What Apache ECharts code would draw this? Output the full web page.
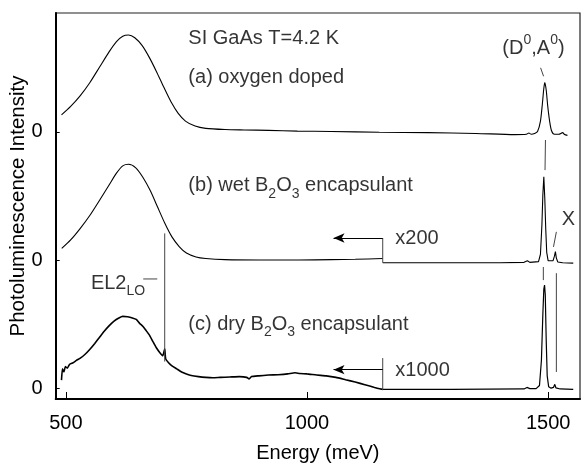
<!DOCTYPE html>
<html><head><meta charset="utf-8">
<script src="https://cdn.jsdelivr.net/npm/echarts@6/dist/echarts.min.js"></script>
<style>html,body{margin:0;padding:0;background:#fff}#c{width:583px;height:464px}</style>
</head><body><div id="c"></div>
<script>
// ---- data (energy meV, offset intensity a.u.) ----
const xTicks = [500, 1000, 1500];
const zeroLevels = [2.85, 36.0, 69.2];
const zeroLabel = '0';

const specA = [[491,73.6],[510,75.8],[530,78.6],[550,82.0],[570,86.0],[590,90.0],[605,92.6],[618,94.0],[630,94.3],[643,93.6],[658,91.6],[673,88.5],[688,84.8],[703,80.8],[718,77.0],[733,74.0],[748,72.0],[768,70.7],[790,70.1],[830,69.8],[870,69.7],[920,69.6],[980,69.4],[1050,69.3],[1150,69.1],[1250,69.0],[1350,68.8],[1430,68.5],[1455,68.6],[1460,68.9],[1465,68.6],[1472,68.8],[1478,69.3],[1484,72.0],[1488,76.5],[1491,80.5],[1493,82.0],[1496,80.0],[1499,76.0],[1503,72.0],[1507,69.5],[1513,68.6],[1522,68.6],[1530,69.0],[1534,68.5],[1540,68.3]];

const specBLeft = [[491.5,39.0],[510,41.2],[530,44.2],[550,47.6],[570,51.5],[590,55.5],[605,58.5],[618,60.4],[630,60.8],[645,59.9],[660,57.4],[675,54.0],[690,49.8],[705,45.6],[720,42.0],[735,39.5],[750,37.8],[770,36.8],[790,36.4],[830,36.1],[900,36.0],[983,36.0],[1050,36.1],[1100,36.2],[1157,36.4]];
const specBRight = [[1157,35.3],[1300,35.3],[1400,35.3],[1450,35.4],[1457,35.8],[1462,35.4],[1480,35.6],[1484,37.5],[1487,45],[1489,53],[1491,57.6],[1493,52],[1495,44],[1497,38],[1500,35.8],[1504,35.5],[1510,35.8],[1513,37],[1515,38.2],[1517,36.5],[1520,35.5],[1530,35.3],[1552,35.2]];

const specCLeft = [[491,4.9],[493,7.8],[496,7.0],[499,8.4],[503,8.0],[508,9.0],[515,9.4],[522,10.0],[530,10.6],[540,11.6],[550,12.9],[560,14.4],[570,16.0],[580,17.6],[590,19.0],[600,20.2],[610,21.0],[618,21.4],[628,21.3],[638,21.0],[646,20.6],[653,19.6],[660,18.8],[666,17.8],[673,16.6],[680,15.0],[688,13.2],[695,12.0],[701,11.2],[705,13.0],[707,10.4],[713,9.4],[720,8.6],[730,7.8],[740,7.0],[750,6.5],[760,6.1],[775,5.8],[790,5.6],[805,5.5],[820,5.6],[840,5.7],[860,5.8],[875,5.6],[880,5.2],[885,5.8],[900,6.0],[920,6.2],[940,6.3],[960,6.5],[975,6.8],[985,6.6],[1000,6.5],[1020,6.2],[1040,6.0],[1060,5.6],[1080,5.0],[1100,4.4],[1120,3.7],[1140,3.0],[1157,2.5]];
const specCRight = [[1157,2.5],[1300,2.5],[1450,2.6],[1456,3.0],[1462,2.7],[1475,2.7],[1482,3.5],[1486,10],[1489,22],[1491,28.5],[1492.5,29.5],[1494,27],[1496,15],[1498,6],[1501,3.2],[1506,2.8],[1511,3.0],[1513.7,3.8],[1516,2.9],[1525,2.6],[1552,2.5]];

// annotation segments (data coords)
const guideSegments = [
  [[1157,35.3],[1157,41.7]],
  [[1157,2.5],[1157,10.6]],
  [[705,42.9],[705,9.7]],
  [[660.5,31.1],[689.6,31.1]],
  [[1484.3,85.8],[1490.5,83.6]],
  [[1494.4,67.1],[1493.5,59.3]],
  [[1490,34.2],[1490,30.8]],
  [[1517,43.3],[1511,39.4]],
  [[1517,32.6],[1517,7.0]]
];
const arrows = [
  [[1157,41.7],[1055,41.7]],
  [[1157,7.6],[1055,7.6]]
];
const textNotes = [
  {t:'SI GaAs T=4.2 K', p:[754,93.5]},
  {t:'(a) oxygen doped', p:[754,83.2]},
  {t:'(b) wet B{sub|2}O{sub|3} encapsulant', p:[754,55.2]},
  {t:'(c) dry B{sub|2}O{sub|3} encapsulant', p:[754,19.4]},
  {t:'x200', p:[1183,41.7]},
  {t:'x1000', p:[1183,7.5]},
  {t:'(D{sup|0},A{sup|0})', p:[1405,90.9]},
  {t:'X', p:[1528,46.4]},
  {t:'EL2{sub|LO}', p:[552,30.0]}
];

const FONT = 'Liberation Sans';
const INK = '#000';
const richStyles = {
  m: {fontSize: 20, fontFamily: FONT, color: INK, lineHeight: 30, verticalAlign: 'middle'},
  sub: {fontSize: 14, fontFamily: FONT, color: INK, lineHeight: 14, verticalAlign: 'bottom'},
  sup: {fontSize: 14, fontFamily: FONT, color: INK, lineHeight: 14, verticalAlign: 'top'}
};
function toRich(s){
  return s.split(/(\{(?:sub|sup)\|[^}]*\})/).filter(x=>x.length).map(x=> x.startsWith('{') ? x : '{m|'+x+'}').join('');
}

const lineBase = {type:'line', showSymbol:false, symbol:'none', animation:false, silent:true, z:3};
const series = [
  Object.assign({}, lineBase, {data: specA, smooth: 0.25, lineStyle:{color:INK, width:1.1}}),
  Object.assign({}, lineBase, {data: specBLeft, smooth: 0.25, lineStyle:{color:INK, width:1.1}}),
  Object.assign({}, lineBase, {data: specBRight, lineStyle:{color:INK, width:1.1}}),
  Object.assign({}, lineBase, {data: specCLeft, smooth: 0.15, lineStyle:{color:INK, width:1.6}}),
  Object.assign({}, lineBase, {data: specCRight, lineStyle:{color:INK, width:1.2}})
];
guideSegments.forEach(seg => series.push(Object.assign({}, lineBase, {data: seg, lineStyle:{color:'#444', width:1}})));
series.push({
  type:'line', data:[], silent:true, animation:false,
  markLine:{silent:true, animation:false, symbol:['none','arrow'], symbolSize:[7,11],
    lineStyle:{color:INK, width:1, type:'solid'}, label:{show:false},
    data: arrows.map(a => [{coord:a[0]},{coord:a[1]}])}
});
series.push({
  type:'scatter', symbolSize:0, silent:true, animation:false, z:5,
  data: textNotes.map(n => ({value:n.p, label:{show:true, position:'right', distance:0,
    formatter: toRich(n.t), rich: richStyles}}))
});

const chart = echarts.init(document.getElementById('c'), null, {renderer:'canvas'});
chart.setOption({
  backgroundColor:'#fff',
  animation:false,
  grid:{left:55.7, right:3, top:13, bottom:65, containLabel:false, outerBoundsMode:'none',
    show:true, borderColor:'#222', borderWidth:1.2},
  xAxis:{type:'value', min:479, max:1566,
    name:'Energy (meV)', nameLocation:'middle', nameGap:44, nameMoveOverlap:false,
    nameTextStyle:{fontFamily:FONT, fontSize:20, color:INK},
    axisLine:{show:true, onZero:false, lineStyle:{color:INK, width:2}},
    axisTick:{show:true, inside:true, length:7, customValues:xTicks, lineStyle:{color:INK, width:1}},
    axisLabel:{customValues:xTicks, formatter:(v)=>String(v), fontFamily:FONT, fontSize:20, color:INK, margin:14},
    splitLine:{show:false}},
  yAxis:{type:'value', min:0, max:100,
    name:'Photoluminescence Intensity', nameLocation:'middle', nameGap:27, nameRotate:90, nameMoveOverlap:false,
    nameTextStyle:{fontFamily:FONT, fontSize:20.5, color:INK},
    axisLine:{show:true, lineStyle:{color:INK, width:2}},
    axisTick:{show:true, inside:true, length:4, customValues:zeroLevels, lineStyle:{color:INK, width:1}},
    axisLabel:{customValues:zeroLevels, formatter:()=>zeroLabel, fontFamily:FONT, fontSize:20, color:INK, margin:13},
    splitLine:{show:false}},
  series: series
});
</script>
</body></html>
